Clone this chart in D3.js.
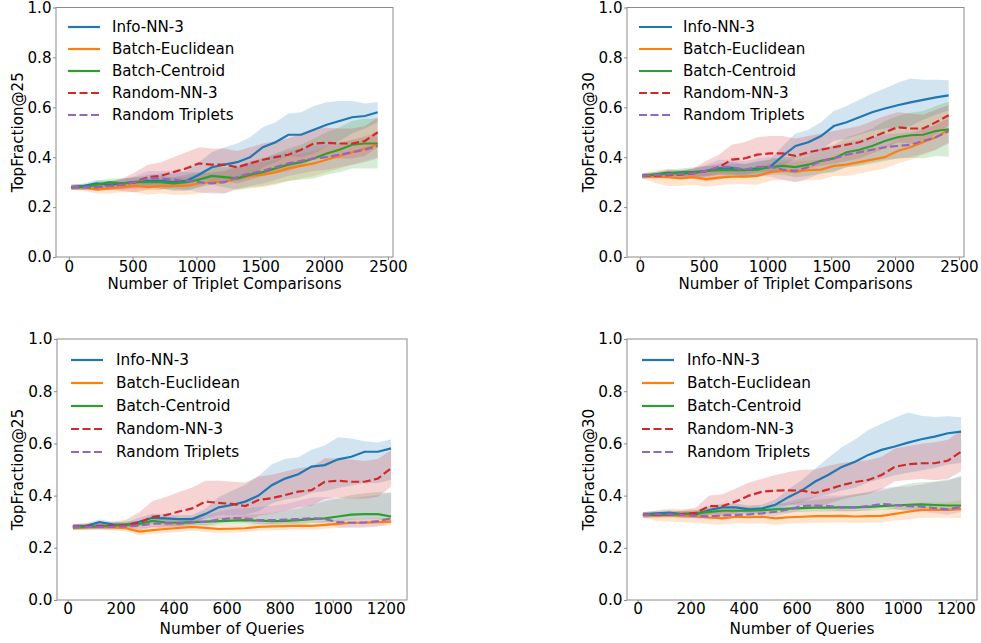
<!DOCTYPE html>
<html>
<head>
<meta charset="utf-8">
<script src="https://cdn.jsdelivr.net/npm/d3@7"></script>
<style>
  body { margin: 0; background: #fff; }
  svg { font-family: "DejaVu Sans", sans-serif; }
</style>
</head>
<body>
<div id="chart"></div>
<script>
// x values
var xTriplets = [20, 120, 220, 320, 420, 520, 620, 720, 820, 920, 1020, 1120, 1220, 1320, 1420, 1520, 1620, 1720, 1820, 1920, 2020, 2120, 2220, 2320, 2420];
var xQueries = [20, 70, 120, 170, 220, 270, 320, 370, 420, 470, 520, 570, 620, 670, 720, 770, 820, 870, 920, 970, 1020, 1070, 1120, 1170, 1220];

var seriesNames = ["Info-NN-3", "Batch-Euclidean", "Batch-Centroid", "Random-NN-3", "Random Triplets"];
var seriesColors = ["#1f77b4", "#ff7f0e", "#2ca02c", "#d62728", "#9467bd"];
var seriesDashed = [false, false, false, true, true];

var xTicksTriplets = [0, 500, 1000, 1500, 2000, 2500];
var xTicksQueries = [0, 200, 400, 600, 800, 1000, 1200];
var yTicks = [0, 0.2, 0.4, 0.6, 0.8, 1.0];

// top left: TopFraction@25 vs triplet comparisons (mean, band spread)
var tlInfo = [0.28, 0.285, 0.295, 0.29, 0.295, 0.30, 0.305, 0.305, 0.30, 0.305, 0.33, 0.36, 0.37, 0.38, 0.40, 0.44, 0.46, 0.49, 0.49, 0.51, 0.53, 0.545, 0.56, 0.565, 0.58];
var tlInfoSd = [0.01, 0.01, 0.015, 0.015, 0.02, 0.02, 0.025, 0.03, 0.035, 0.04, 0.05, 0.06, 0.07, 0.075, 0.08, 0.08, 0.08, 0.085, 0.09, 0.095, 0.09, 0.08, 0.065, 0.05, 0.04];
var tlEuc = [0.28, 0.28, 0.27, 0.275, 0.28, 0.285, 0.28, 0.285, 0.285, 0.285, 0.295, 0.30, 0.30, 0.315, 0.325, 0.33, 0.34, 0.355, 0.365, 0.375, 0.39, 0.405, 0.42, 0.435, 0.45];
var tlEucSd = [0.01, 0.015, 0.015, 0.02, 0.02, 0.025, 0.03, 0.03, 0.035, 0.035, 0.04, 0.04, 0.045, 0.045, 0.05, 0.05, 0.05, 0.05, 0.05, 0.05, 0.05, 0.05, 0.05, 0.05, 0.05];
var tlCen = [0.28, 0.28, 0.29, 0.30, 0.295, 0.30, 0.30, 0.30, 0.295, 0.30, 0.31, 0.325, 0.32, 0.315, 0.33, 0.34, 0.355, 0.37, 0.38, 0.395, 0.415, 0.43, 0.45, 0.455, 0.455];
var tlCenSd = [0.01, 0.01, 0.015, 0.015, 0.02, 0.02, 0.02, 0.025, 0.025, 0.03, 0.03, 0.035, 0.04, 0.045, 0.05, 0.055, 0.06, 0.065, 0.07, 0.08, 0.085, 0.09, 0.095, 0.1, 0.1];
var tlRnn = [0.28, 0.28, 0.28, 0.285, 0.29, 0.30, 0.32, 0.325, 0.34, 0.355, 0.375, 0.37, 0.37, 0.36, 0.375, 0.39, 0.40, 0.41, 0.43, 0.455, 0.458, 0.455, 0.455, 0.465, 0.50];
var tlRnnSd = [0.01, 0.01, 0.01, 0.015, 0.025, 0.04, 0.05, 0.055, 0.06, 0.065, 0.065, 0.065, 0.065, 0.065, 0.065, 0.065, 0.065, 0.065, 0.065, 0.06, 0.06, 0.06, 0.06, 0.06, 0.06];
var tlRtr = [0.28, 0.28, 0.28, 0.285, 0.29, 0.30, 0.315, 0.315, 0.31, 0.305, 0.30, 0.295, 0.30, 0.32, 0.335, 0.345, 0.36, 0.375, 0.385, 0.395, 0.40, 0.41, 0.42, 0.43, 0.445];
var tlRtrSd = [0.01, 0.01, 0.015, 0.015, 0.02, 0.025, 0.03, 0.03, 0.035, 0.035, 0.04, 0.04, 0.045, 0.045, 0.05, 0.05, 0.05, 0.05, 0.05, 0.05, 0.05, 0.05, 0.05, 0.05, 0.05];

// top right: TopFraction@30 vs triplet comparisons
var trInfo = [0.325, 0.33, 0.338, 0.334, 0.338, 0.344, 0.355, 0.357, 0.348, 0.355, 0.361, 0.405, 0.445, 0.46, 0.485, 0.525, 0.54, 0.56, 0.58, 0.595, 0.608, 0.62, 0.63, 0.64, 0.648];
var trInfoSd = [0.01, 0.01, 0.01, 0.015, 0.015, 0.02, 0.02, 0.025, 0.025, 0.03, 0.03, 0.04, 0.05, 0.05, 0.055, 0.06, 0.065, 0.07, 0.075, 0.08, 0.09, 0.095, 0.08, 0.07, 0.06];
var trEuc = [0.325, 0.322, 0.32, 0.315, 0.32, 0.312, 0.318, 0.322, 0.322, 0.325, 0.34, 0.345, 0.342, 0.348, 0.35, 0.365, 0.37, 0.38, 0.39, 0.40, 0.425, 0.44, 0.46, 0.48, 0.51];
var trEucSd = [0.01, 0.025, 0.035, 0.03, 0.03, 0.03, 0.03, 0.03, 0.03, 0.035, 0.035, 0.035, 0.04, 0.04, 0.04, 0.04, 0.045, 0.045, 0.045, 0.045, 0.05, 0.05, 0.05, 0.05, 0.05];
var trCen = [0.325, 0.33, 0.335, 0.34, 0.34, 0.345, 0.348, 0.348, 0.348, 0.35, 0.36, 0.365, 0.36, 0.37, 0.385, 0.395, 0.42, 0.43, 0.445, 0.465, 0.48, 0.488, 0.49, 0.505, 0.512];
var trCenSd = [0.01, 0.01, 0.015, 0.015, 0.02, 0.02, 0.02, 0.025, 0.025, 0.03, 0.03, 0.035, 0.04, 0.045, 0.05, 0.055, 0.06, 0.065, 0.07, 0.08, 0.085, 0.09, 0.095, 0.1, 0.11];
var trRnn = [0.325, 0.325, 0.328, 0.33, 0.335, 0.345, 0.36, 0.39, 0.395, 0.41, 0.415, 0.415, 0.405, 0.42, 0.43, 0.44, 0.45, 0.46, 0.48, 0.50, 0.52, 0.515, 0.515, 0.54, 0.568];
var trRnnSd = [0.01, 0.01, 0.01, 0.015, 0.02, 0.04, 0.05, 0.06, 0.065, 0.07, 0.07, 0.07, 0.07, 0.065, 0.065, 0.065, 0.065, 0.065, 0.065, 0.065, 0.06, 0.06, 0.055, 0.05, 0.04];
var trRtr = [0.325, 0.328, 0.33, 0.332, 0.335, 0.345, 0.36, 0.36, 0.35, 0.36, 0.362, 0.35, 0.345, 0.36, 0.385, 0.395, 0.41, 0.42, 0.43, 0.44, 0.445, 0.45, 0.465, 0.48, 0.505];
var trRtrSd = [0.01, 0.01, 0.015, 0.015, 0.02, 0.025, 0.03, 0.03, 0.035, 0.035, 0.04, 0.04, 0.045, 0.045, 0.05, 0.05, 0.05, 0.05, 0.05, 0.05, 0.05, 0.05, 0.05, 0.05, 0.05];

// bottom left: TopFraction@25 vs queries (mean, spread above, spread below)
var blInfo = [0.281, 0.284, 0.298, 0.29, 0.287, 0.30, 0.315, 0.313, 0.31, 0.31, 0.33, 0.355, 0.364, 0.377, 0.40, 0.44, 0.465, 0.482, 0.511, 0.517, 0.539, 0.549, 0.568, 0.568, 0.581];
var blInfoUp = [0.01, 0.01, 0.01, 0.01, 0.01, 0.015, 0.015, 0.015, 0.015, 0.015, 0.02, 0.04, 0.055, 0.065, 0.075, 0.08, 0.075, 0.065, 0.065, 0.075, 0.085, 0.07, 0.04, 0.035, 0.035];
var blInfoDn = [0.01, 0.01, 0.01, 0.01, 0.01, 0.015, 0.015, 0.015, 0.015, 0.015, 0.02, 0.03, 0.04, 0.05, 0.06, 0.07, 0.08, 0.09, 0.10, 0.10, 0.11, 0.11, 0.12, 0.12, 0.12];
var blEuc = [0.278, 0.278, 0.28, 0.278, 0.275, 0.262, 0.268, 0.272, 0.276, 0.28, 0.276, 0.272, 0.273, 0.275, 0.28, 0.282, 0.283, 0.285, 0.284, 0.288, 0.292, 0.296, 0.296, 0.298, 0.30];
var blEucSd = [0.01, 0.01, 0.01, 0.012, 0.012, 0.015, 0.015, 0.015, 0.015, 0.015, 0.015, 0.015, 0.015, 0.015, 0.015, 0.015, 0.015, 0.015, 0.015, 0.015, 0.015, 0.015, 0.015, 0.015, 0.015];
var blCen = [0.278, 0.28, 0.282, 0.285, 0.29, 0.292, 0.303, 0.297, 0.296, 0.298, 0.30, 0.302, 0.304, 0.306, 0.304, 0.302, 0.303, 0.306, 0.31, 0.313, 0.32, 0.327, 0.329, 0.329, 0.32];
var blCenUp = [0.01, 0.01, 0.01, 0.01, 0.012, 0.012, 0.015, 0.015, 0.015, 0.015, 0.015, 0.015, 0.015, 0.02, 0.025, 0.03, 0.04, 0.045, 0.055, 0.065, 0.07, 0.075, 0.08, 0.085, 0.09];
var blCenDn = [0.01, 0.01, 0.01, 0.01, 0.01, 0.01, 0.012, 0.012, 0.012, 0.012, 0.015, 0.015, 0.015, 0.015, 0.015, 0.015, 0.015, 0.015, 0.015, 0.015, 0.02, 0.02, 0.02, 0.02, 0.02];
var blRnn = [0.281, 0.283, 0.284, 0.285, 0.287, 0.296, 0.319, 0.325, 0.339, 0.351, 0.377, 0.372, 0.368, 0.36, 0.383, 0.39, 0.402, 0.415, 0.421, 0.453, 0.457, 0.453, 0.453, 0.465, 0.505];
var blRnnUp = [0.01, 0.01, 0.01, 0.015, 0.02, 0.04, 0.06, 0.07, 0.075, 0.08, 0.08, 0.085, 0.085, 0.09, 0.09, 0.09, 0.09, 0.09, 0.09, 0.09, 0.085, 0.085, 0.08, 0.075, 0.07];
var blRnnDn = [0.01, 0.01, 0.01, 0.012, 0.015, 0.03, 0.04, 0.05, 0.055, 0.06, 0.06, 0.06, 0.06, 0.06, 0.06, 0.06, 0.06, 0.06, 0.06, 0.065, 0.065, 0.065, 0.065, 0.07, 0.07];
var blRtr = [0.28, 0.28, 0.28, 0.28, 0.282, 0.285, 0.292, 0.294, 0.293, 0.297, 0.30, 0.308, 0.314, 0.312, 0.306, 0.306, 0.308, 0.31, 0.313, 0.31, 0.298, 0.296, 0.297, 0.302, 0.313];
var blRtrUp = [0.01, 0.01, 0.01, 0.01, 0.012, 0.012, 0.015, 0.015, 0.02, 0.02, 0.025, 0.03, 0.035, 0.04, 0.05, 0.055, 0.06, 0.07, 0.08, 0.085, 0.09, 0.095, 0.1, 0.1, 0.1];
var blRtrDn = [0.01, 0.01, 0.01, 0.01, 0.01, 0.01, 0.012, 0.012, 0.012, 0.012, 0.015, 0.015, 0.015, 0.015, 0.015, 0.015, 0.015, 0.015, 0.015, 0.015, 0.02, 0.02, 0.02, 0.02, 0.02];

// bottom right: TopFraction@30 vs queries
var brInfo = [0.326, 0.332, 0.335, 0.328, 0.328, 0.345, 0.355, 0.355, 0.347, 0.351, 0.365, 0.395, 0.42, 0.454, 0.48, 0.51, 0.53, 0.556, 0.575, 0.588, 0.603, 0.616, 0.626, 0.639, 0.645];
var brInfoUp = [0.01, 0.01, 0.01, 0.012, 0.012, 0.015, 0.015, 0.015, 0.015, 0.015, 0.02, 0.03, 0.04, 0.05, 0.065, 0.075, 0.085, 0.095, 0.1, 0.11, 0.115, 0.09, 0.075, 0.065, 0.055];
var brInfoDn = [0.01, 0.01, 0.01, 0.012, 0.012, 0.015, 0.015, 0.015, 0.015, 0.015, 0.02, 0.03, 0.045, 0.06, 0.075, 0.09, 0.1, 0.105, 0.11, 0.11, 0.115, 0.12, 0.12, 0.12, 0.12];
var brEuc = [0.326, 0.323, 0.326, 0.323, 0.32, 0.316, 0.313, 0.319, 0.317, 0.319, 0.313, 0.317, 0.319, 0.321, 0.321, 0.322, 0.32, 0.321, 0.322, 0.33, 0.338, 0.345, 0.345, 0.345, 0.349];
var brEucSd = [0.01, 0.02, 0.025, 0.025, 0.025, 0.025, 0.025, 0.025, 0.025, 0.025, 0.025, 0.025, 0.025, 0.025, 0.025, 0.025, 0.025, 0.025, 0.025, 0.025, 0.03, 0.03, 0.03, 0.03, 0.035];
var brCen = [0.326, 0.326, 0.327, 0.33, 0.333, 0.338, 0.342, 0.342, 0.342, 0.344, 0.347, 0.35, 0.352, 0.354, 0.354, 0.355, 0.355, 0.357, 0.36, 0.362, 0.365, 0.366, 0.364, 0.362, 0.362];
var brCenUp = [0.01, 0.01, 0.01, 0.01, 0.012, 0.012, 0.015, 0.015, 0.015, 0.015, 0.02, 0.02, 0.025, 0.03, 0.035, 0.04, 0.05, 0.055, 0.06, 0.07, 0.08, 0.085, 0.09, 0.1, 0.11];
var brCenDn = [0.01, 0.01, 0.01, 0.01, 0.01, 0.012, 0.012, 0.012, 0.012, 0.012, 0.015, 0.015, 0.015, 0.015, 0.015, 0.015, 0.015, 0.015, 0.015, 0.015, 0.02, 0.02, 0.02, 0.02, 0.02];
var brRnn = [0.326, 0.326, 0.327, 0.329, 0.334, 0.36, 0.36, 0.377, 0.40, 0.415, 0.419, 0.42, 0.419, 0.41, 0.424, 0.44, 0.452, 0.46, 0.479, 0.51, 0.52, 0.524, 0.524, 0.534, 0.568];
var brRnnUp = [0.01, 0.01, 0.01, 0.015, 0.02, 0.04, 0.045, 0.05, 0.05, 0.05, 0.06, 0.07, 0.08, 0.09, 0.09, 0.085, 0.08, 0.075, 0.07, 0.07, 0.07, 0.075, 0.08, 0.08, 0.08];
var brRnnDn = [0.01, 0.01, 0.01, 0.015, 0.02, 0.035, 0.04, 0.045, 0.05, 0.055, 0.055, 0.055, 0.055, 0.055, 0.055, 0.055, 0.055, 0.055, 0.055, 0.055, 0.06, 0.06, 0.065, 0.07, 0.075];
var brRtr = [0.326, 0.328, 0.328, 0.326, 0.322, 0.32, 0.324, 0.326, 0.328, 0.332, 0.338, 0.347, 0.36, 0.362, 0.36, 0.355, 0.355, 0.36, 0.368, 0.364, 0.36, 0.358, 0.352, 0.347, 0.357];
var brRtrUp = [0.01, 0.01, 0.01, 0.01, 0.012, 0.012, 0.015, 0.015, 0.02, 0.02, 0.025, 0.03, 0.03, 0.035, 0.04, 0.045, 0.05, 0.055, 0.06, 0.07, 0.075, 0.085, 0.1, 0.11, 0.12];
var brRtrDn = [0.01, 0.01, 0.01, 0.01, 0.01, 0.012, 0.012, 0.012, 0.012, 0.012, 0.015, 0.015, 0.015, 0.015, 0.015, 0.015, 0.015, 0.015, 0.015, 0.015, 0.02, 0.02, 0.02, 0.02, 0.02];

var width = 981;
var height = 643;
var spineColor = '#8c8c8c';

var svg = d3.select('#chart')
    .append('svg')
    .attr('width', width)
    .attr('height', height);

var panels = [
    { left: 56, right: 393, top: 7.5, bottom: 257, xDomain: [-100, 2540], xs: xTriplets, xTicks: xTicksTriplets,
      xLabel: 'Number of Triplet Comparisons', yLabel: 'TopFraction@25', font: 15.1, legendTop: 19.5, legendStep: 22,
      legendLine: [12, 44], legendText: 56, yLabelX: 18, tickPad: 1.5, xLabelGap: 27,
      means: [tlInfo, tlEuc, tlCen, tlRnn, tlRtr],
      ups: [tlInfoSd, tlEucSd, tlCenSd, tlRnnSd, tlRtrSd],
      dns: [tlInfoSd, tlEucSd, tlCenSd, tlRnnSd, tlRtrSd] },
    { left: 627, right: 964, top: 7.5, bottom: 257, xDomain: [-100, 2540], xs: xTriplets, xTicks: xTicksTriplets,
      xLabel: 'Number of Triplet Comparisons', yLabel: 'TopFraction@30', font: 15.1, legendTop: 19.5, legendStep: 22,
      legendLine: [12, 45], legendText: 56, yLabelX: 589, tickPad: 1.5, xLabelGap: 27,
      means: [trInfo, trEuc, trCen, trRnn, trRtr],
      ups: [trInfoSd, trEucSd, trCenSd, trRnnSd, trRtrSd],
      dns: [trInfoSd, trEucSd, trCenSd, trRnnSd, trRtrSd] },
    { left: 57, right: 407, top: 339, bottom: 600, xDomain: [-40, 1280], xs: xQueries, xTicks: xTicksQueries,
      xLabel: 'Number of Queries', yLabel: 'TopFraction@25', font: 15.3, legendTop: 21, legendStep: 23,
      legendLine: [14, 46], legendText: 59, yLabelX: 18, tickPad: 0.5, xLabelGap: 28.5,
      means: [blInfo, blEuc, blCen, blRnn, blRtr],
      ups: [blInfoUp, blEucSd, blCenUp, blRnnUp, blRtrUp],
      dns: [blInfoDn, blEucSd, blCenDn, blRnnDn, blRtrDn] },
    { left: 627, right: 977, top: 339, bottom: 600, xDomain: [-40, 1280], xs: xQueries, xTicks: xTicksQueries,
      xLabel: 'Number of Queries', yLabel: 'TopFraction@30', font: 15.3, legendTop: 21, legendStep: 23,
      legendLine: [15, 47], legendText: 60, yLabelX: 589, tickPad: 0.5, xLabelGap: 28.5,
      means: [brInfo, brEuc, brCen, brRnn, brRtr],
      ups: [brInfoUp, brEucSd, brCenUp, brRnnUp, brRtrUp],
      dns: [brInfoDn, brEucSd, brCenDn, brRnnDn, brRtrDn] }
];

panels.forEach(drawPanel);

function drawPanel(p) {
    var x = d3.scaleLinear().domain(p.xDomain).range([p.left, p.right]);
    var y = d3.scaleLinear().domain([0, 1]).range([p.bottom, p.top]);
    var g = svg.append('g');

    // shaded bands first
    p.means.forEach(function (m, i) {
        var pts = p.xs.map(function (xv, j) {
            return { x: xv, lo: m[j] - p.dns[i][j], hi: m[j] + p.ups[i][j] };
        });
        var area = d3.area()
            .x(function (d) { return x(d.x); })
            .y0(function (d) { return y(d.lo); })
            .y1(function (d) { return y(d.hi); });
        g.append('path')
            .datum(pts)
            .attr('d', area)
            .attr('fill', seriesColors[i])
            .attr('fill-opacity', 0.2)
            .attr('stroke', 'none');
    });

    p.means.forEach(function (m, i) {
        var pts = p.xs.map(function (xv, j) { return { x: xv, v: m[j] }; });
        var line = d3.line()
            .x(function (d) { return x(d.x); })
            .y(function (d) { return y(d.v); });
        g.append('path')
            .datum(pts)
            .attr('d', line)
            .attr('fill', 'none')
            .attr('stroke', seriesColors[i])
            .attr('stroke-width', 2.2)
            .attr('stroke-dasharray', seriesDashed[i] ? '8,3.5' : null);
    });

    // spines
    g.append('rect')
        .attr('x', p.left)
        .attr('y', p.top)
        .attr('width', p.right - p.left)
        .attr('height', p.bottom - p.top)
        .attr('fill', 'none')
        .attr('stroke', spineColor)
        .attr('stroke-width', 1);

    var xAxis = g.append('g')
        .attr('transform', 'translate(0,' + p.bottom + ')')
        .call(d3.axisBottom(x).tickValues(p.xTicks).tickSize(3).tickPadding(p.tickPad).tickFormat(d3.format('d')));
    var yAxis = g.append('g')
        .attr('transform', 'translate(' + p.left + ',0)')
        .call(d3.axisLeft(y).tickValues(yTicks).tickSize(3).tickPadding(1.5).tickFormat(d3.format('.1f')));

    [xAxis, yAxis].forEach(function (a) {
        a.select('.domain').remove();
        a.selectAll('.tick line').attr('stroke', spineColor);
        a.selectAll('.tick text')
            .attr('fill', '#000')
            .style('font-size', p.font + 'px')
            .style('font-family', '"DejaVu Sans", sans-serif');
    });

    g.append('text')
        .attr('x', (p.left + p.right) / 2)
        .attr('y', p.bottom + p.xLabelGap)
        .attr('text-anchor', 'middle')
        .attr('dominant-baseline', 'central')
        .style('font-size', p.font + 'px')
        .text(p.xLabel);

    g.append('text')
        .attr('transform', 'translate(' + p.yLabelX + ',' + ((p.top + p.bottom) / 2) + ') rotate(-90)')
        .attr('text-anchor', 'middle')
        .attr('dominant-baseline', 'central')
        .style('font-size', p.font + 'px')
        .text(p.yLabel);

    // legend, no frame
    var legend = g.append('g');
    seriesNames.forEach(function (name, i) {
        var ly = p.top + p.legendTop + i * p.legendStep;
        legend.append('line')
            .attr('x1', p.left + p.legendLine[0])
            .attr('x2', p.left + p.legendLine[1])
            .attr('y1', ly)
            .attr('y2', ly)
            .attr('stroke', seriesColors[i])
            .attr('stroke-width', 2.2)
            .attr('stroke-dasharray', seriesDashed[i] ? '8,3.5' : null);
        legend.append('text')
            .attr('x', p.left + p.legendText)
            .attr('y', ly)
            .attr('dominant-baseline', 'central')
            .style('font-size', p.font + 'px')
            .text(name);
    });
}
</script>
</body>
</html>
